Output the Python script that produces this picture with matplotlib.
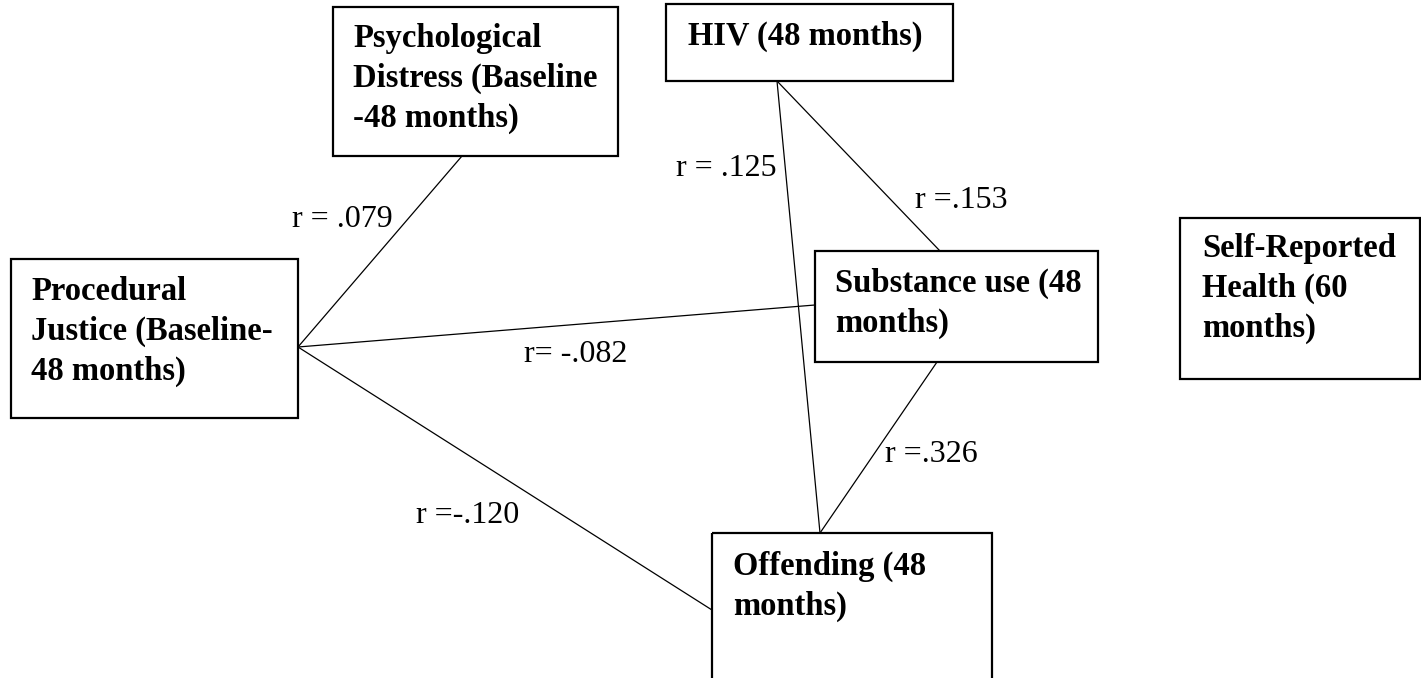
"""
Path diagram: procedural justice, psychological distress, HIV, substance use,
offending and self-reported health, with correlation coefficients.
"""

import matplotlib
matplotlib.use('Agg')
import matplotlib.pyplot as plt
from matplotlib.patches import Rectangle

plt.rcParams['font.family'] = ['Liberation Serif', 'DejaVu Serif']

# variables (box labels)
nodes = ['pj', 'pd', 'hiv', 'sub', 'off', 'srh']
node_labels = [
    'Procedural\nJustice (Baseline-\n48 months)',
    'Psychological\nDistress (Baseline\n-48 months)',
    'HIV (48 months)',
    'Substance use (48\nmonths)',
    'Offending (48\nmonths)',
    'Self-Reported\nHealth (60\nmonths)',
]

# correlations between variables
edges = [('pd', 'pj'), ('hiv', 'off'), ('hiv', 'sub'), ('pj', 'sub'), ('sub', 'off'), ('pj', 'off')]
r_labels = ['r = .079', 'r = .125', 'r =.153', 'r= -.082', 'r =.326', 'r =-.120']

# layout in pixel units (x0, y0, x1, y1), y downward
boxes = {
    'pj':  (11, 259, 298, 418),
    'pd':  (333, 7, 618, 156),
    'hiv': (666, 4, 953, 81),
    'sub': (815, 251, 1098, 362),
    'off': (712, 533, 992, 700),
    'srh': (1180, 218, 1420, 379),
}
text_pos = {  # left x, first-line baseline
    'pj': (31, 300), 'pd': (353, 47), 'hiv': (688, 45),
    'sub': (835, 292), 'off': (733, 575), 'srh': (1202, 257),
}
line_step = 40
# line end points for each edge
edge_pts = [
    ((462, 156), (298, 347)),
    ((777, 81), (820, 533)),
    ((777, 81), (940, 251)),
    ((298, 347), (815, 305)),
    ((937, 362), (820, 533)),
    ((298, 347), (712, 610)),
]
# label centre x, baseline y
label_pos = [(342, 227), (726, 176), (961, 208), (576, 362), (931, 462), (468, 523)]

fig = plt.figure(figsize=(14.21, 6.78), dpi=100)
ax = fig.add_axes([0, 0, 1, 1])
ax.set_xlim(0, 1421)
ax.set_ylim(678, 0)
ax.axis('off')

for (p0, p1) in edge_pts:
    ax.plot([p0[0], p1[0]], [p0[1], p1[1]], color='black', lw=0.9)

for name, label in zip(nodes, node_labels):
    x0, y0, x1, y1 = boxes[name]
    ax.add_patch(Rectangle((x0, y0), x1 - x0, y1 - y0, facecolor='none',
                           edgecolor='black', lw=1.6, clip_on=True))
    tx, ty = text_pos[name]
    for i, line in enumerate(label.split('\n')):
        ax.text(tx, ty + i * line_step, line, fontsize=23.5, fontweight='bold',
                ha='left', va='baseline')

for (lx, ly), lab in zip(label_pos, r_labels):
    ax.text(lx, ly, lab, fontsize=23, ha='center', va='baseline')

fig.savefig('out.png', dpi=100)
